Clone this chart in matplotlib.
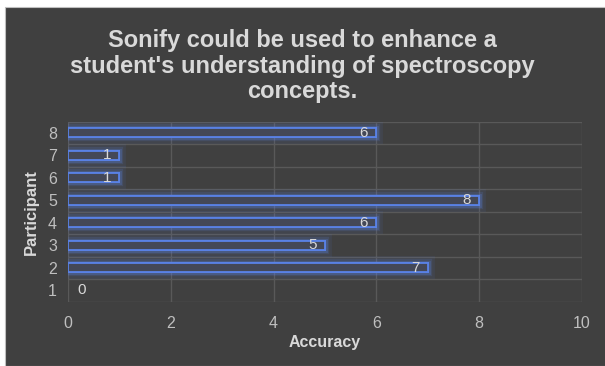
import matplotlib

matplotlib.use("Agg")
import matplotlib.pyplot as plt
import matplotlib.patheffects as pe
from matplotlib.patches import Rectangle

# survey responses per participant
participants = [1, 2, 3, 4, 5, 6, 7, 8]
accuracy = [0, 7, 5, 6, 8, 1, 1, 6]
x_ticks = [0, 2, 4, 6, 8, 10]

title = ("Sonify could be used to enhance a\n"
         "student's understanding of spectroscopy\n"
         "concepts.")

BG = "#404040"
TEXT = "#d9d9d9"
TICK = "#bfbfbf"
GRID = "#595959"
BLUE = "#5a82e6"

plt.rcParams["font.family"] = ["Liberation Sans", "DejaVu Sans"]

fig = plt.figure(figsize=(6.05, 3.66), dpi=100)
fig.patch.set_facecolor("white")

# dark chart panel with a thin grey frame
panel = Rectangle((5 / 605, 0), 1, 1 - 7 / 366, transform=fig.transFigure,
                  facecolor=BG, edgecolor="#bfbfbf", linewidth=0.8, zorder=-10)
fig.patches.append(panel)

ax = fig.add_axes([68 / 605, 1 - 301.7 / 366, (582 - 68) / 605, (301.7 - 121.7) / 366])
ax.set_facecolor(BG)

bars = ax.barh(participants, accuracy, height=0.4, color="#444857",
               edgecolor=BLUE, linewidth=1.3, zorder=3)
glow = [pe.withStroke(linewidth=10, foreground=BLUE, alpha=0.08),
        pe.withStroke(linewidth=6, foreground=BLUE, alpha=0.15),
        pe.withStroke(linewidth=3.5, foreground=BLUE, alpha=0.25),
        pe.Normal()]
for b, v in zip(bars, accuracy):
    if v > 0:
        b.set_path_effects(glow)
    else:
        b.set_visible(False)

for p, v in zip(participants, accuracy):
    if v == 0:
        ax.annotate(str(v), (v, p), xytext=(7, 0), textcoords="offset points",
                    ha="left", va="center", color=TEXT, fontsize=11, zorder=5)
    else:
        ax.annotate(str(v), (v, p), xytext=(-6, 0), textcoords="offset points",
                    ha="right", va="center", color=TEXT, fontsize=11, zorder=5)

ax.set_xlim(0, 10)
ax.set_ylim(0.5, 8.5)
ax.set_xticks(x_ticks)
ax.set_yticks(participants)
ax.set_yticks([i + 0.5 for i in range(0, 9)], minor=True)
ax.grid(axis="x", color=GRID, linewidth=1, zorder=0)
ax.grid(axis="y", which="minor", color=GRID, linewidth=1, zorder=0)
ax.tick_params(which="both", length=0, colors=TICK, labelsize=11.5)
ax.tick_params(axis="x", pad=10)
ax.tick_params(axis="y", pad=8)
for s in ax.spines.values():
    s.set_visible(False)

ax.set_xlabel("Accuracy", color=TEXT, fontsize=11.5, fontweight="bold", labelpad=3)
ax.set_ylabel("Participant", color=TEXT, fontsize=12, fontweight="bold")
ax.yaxis.set_label_coords(-0.056, 0.5)

fig.text(0.5, 1 - 66 / 366, title, ha="center", va="center", color=TEXT,
         fontsize=17, fontweight="bold", linespacing=1.14)

fig.savefig("out.png", dpi=100)
